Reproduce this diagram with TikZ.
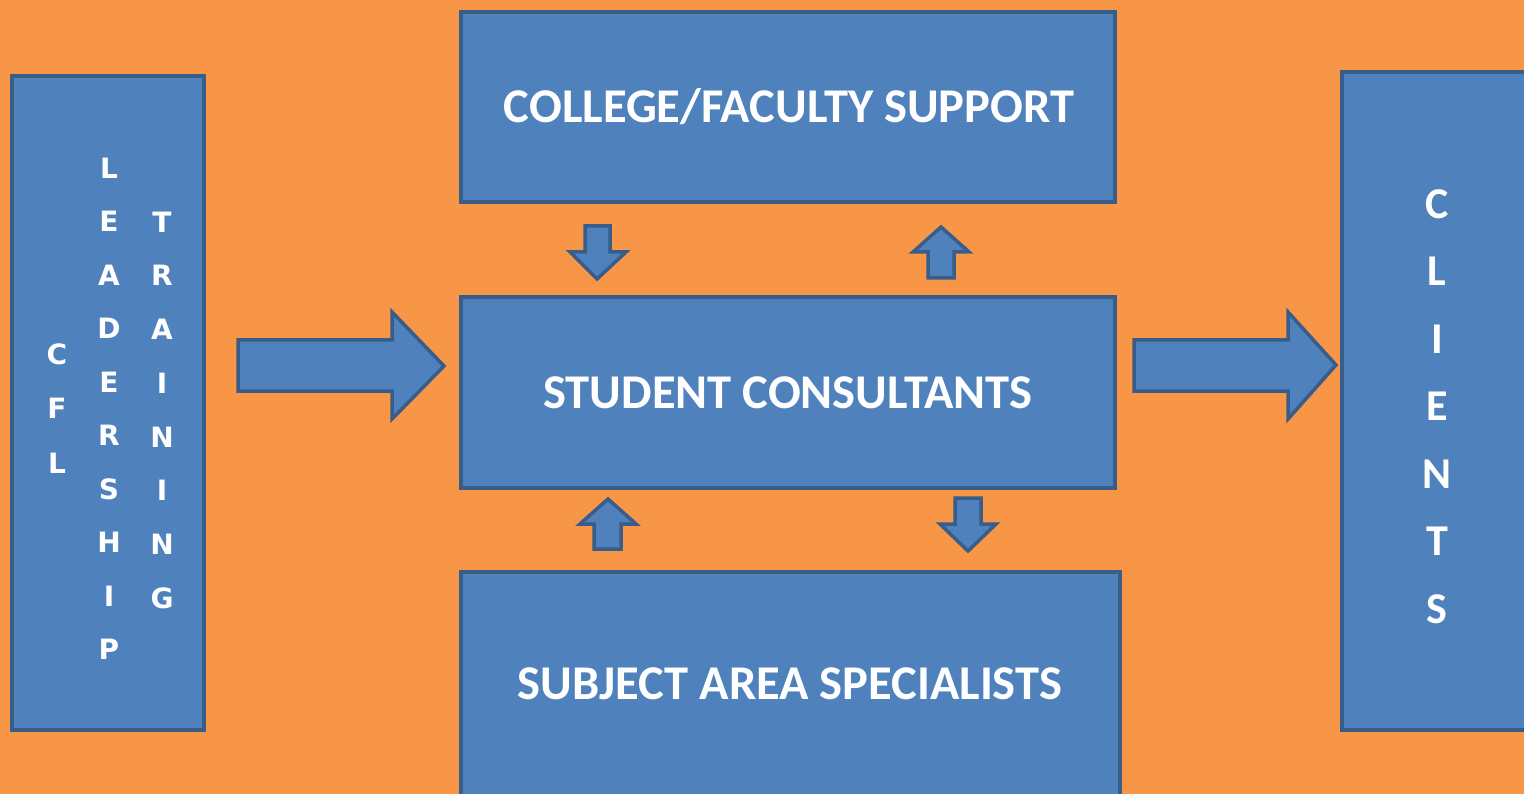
\documentclass[tikz,border=0pt]{standalone}
\usepackage{fontspec}
\setmainfont{Carlito}
\newfontfamily\widefont{DejaVu Sans}
\definecolor{bgorange}{HTML}{F79646}
\definecolor{boxblue}{HTML}{4F81BD}
\definecolor{edgeblue}{HTML}{385D8A}
\tikzset{
  panel/.style={draw=edgeblue, fill=boxblue, line width=4pt, rectangle, inner sep=0pt},
  title/.style={text=white, font=\bfseries\fontsize{48.5}{54}\selectfont, inner sep=0pt},
  letter/.style={text=white, font=\widefont\bfseries\fontsize{28}{32}\selectfont, inner sep=0pt},
  bigletter/.style={text=white, font=\bfseries\fontsize{44}{48}\selectfont, inner sep=0pt},
  blockarrow/.style={draw=edgeblue, fill=boxblue, line width=3.5pt, line join=miter},
}
\begin{document}
\begin{tikzpicture}[x=1pt,y=-1pt]
\useasboundingbox (0,0) rectangle (1524,794);
\clip (0,0) rectangle (1524,794);
\fill[bgorange] (0,0) rectangle (1524,794);

% boxes
\node[panel, minimum width=192pt, minimum height=654pt] (lead) at (108,403) {};
\node[panel, minimum width=654pt, minimum height=190pt] (college) at (788,107) {};
\node[panel, minimum width=654pt, minimum height=191pt] (student) at (788,392.5) {};
\node[panel, minimum width=659pt, minimum height=224pt] (subject) at (790.5,684) {};
\node[panel, minimum width=186pt, minimum height=658pt] (clients) at (1435,401) {};

% titles
\node[title] (tcollege) at (789,107) {COLLEGE/FACULTY SUPPORT};
\node[title] (tstudent) at (788,393) {STUDENT CONSULTANTS};
\node[title] (tsubject) at (790,684) {SUBJECT AREA SPECIALISTS};

% vertical letters, left
\foreach \l [count=\i] in {C,F,L}
  \node[letter] (cfl\i) at ({57},{354+54.5*(\i-1)}) {\l};
\foreach \l [count=\i] in {L,E,A,D,E,R,S,H,I,P}
  \node[letter] (ld\i) at ({109},{168+53.5*(\i-1)}) {\l};
\foreach \l [count=\i] in {T,R,A,I,N,I,N,G}
  \node[letter] (tr\i) at ({162},{222+53.7*(\i-1)}) {\l};

% vertical letters, right
\foreach \l [count=\i] in {C,L,I,E,N,T,S}
  \node[bigletter] (cl\i) at ({1437},{204+67.5*(\i-1)}) {\l};

% big right arrows
\draw[blockarrow] (238,340) -- (392,340) -- (392,312) -- (444,366)
  -- (392,419) -- (392,391) -- (238,391) -- cycle;
\draw[blockarrow] (1134,340) -- (1288,340) -- (1288,312) -- (1336,365)
  -- (1288,419) -- (1288,391) -- (1134,391) -- cycle;

% small arrows between college and student
\draw[blockarrow] (585,226) -- (610,226) -- (610,252) -- (626,252) -- (597,279)
  -- (570,252) -- (585,252) -- cycle;
\draw[blockarrow] (941,227) -- (969,252) -- (954,252) -- (954,278) -- (928,278)
  -- (928,252) -- (913,252) -- cycle;

% small arrows between student and subject
\draw[blockarrow] (608,499) -- (636,524) -- (621,524) -- (621,549) -- (594,549)
  -- (594,524) -- (580,524) -- cycle;
\draw[blockarrow] (955,498) -- (981,498) -- (981,524) -- (996,524) -- (968,551)
  -- (940,524) -- (955,524) -- cycle;
\end{tikzpicture}
\end{document}
